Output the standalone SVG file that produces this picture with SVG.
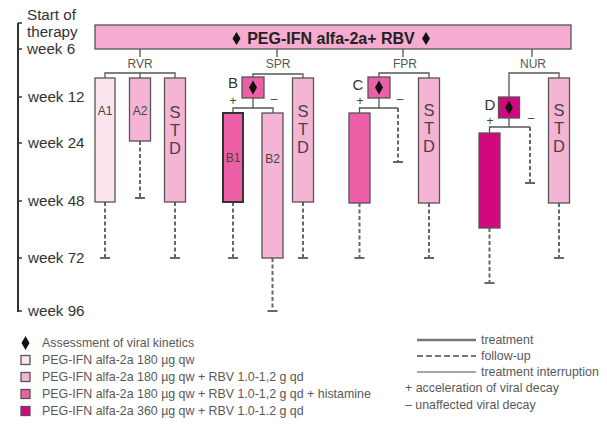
<svg xmlns="http://www.w3.org/2000/svg" width="607" height="430" viewBox="0 0 607 430">
<defs>
<style>
text{font-family:"Liberation Sans",Arial,sans-serif}
.ax{font-size:15.2px;fill:#333}
.grp{font-size:12px;fill:#555;text-anchor:middle}
.bl{font-size:12px;fill:#444;text-anchor:middle}
.std{font-size:16.5px;fill:#444;writing-mode:vertical-rl;text-orientation:upright}
.pm{font-size:12px;fill:#444;text-anchor:middle}
.lg{font-size:12.4px;fill:#595959}
.box{stroke:#555;stroke-width:1.3}
.c0{fill:#fce4ef}.c1{fill:#f6b4d4}.c2{fill:#ec5ea5}.c3{fill:#d4087e}
.conn{stroke:#555;stroke-width:1.3;fill:none}
.fu{stroke:#666;stroke-width:2;stroke-dasharray:4 2.5;fill:none}
.end{stroke:#666;stroke-width:1.8}
.dia{fill:#111}
</style>
</defs>
<rect width="607" height="430" fill="#fff"/>
<g id="axis">
<line x1="18" y1="23" x2="18" y2="312" stroke="#333" stroke-width="2"/>
<g stroke="#333" stroke-width="1.5">
<line x1="18" y1="23" x2="22" y2="23"/><line x1="18" y1="49" x2="22" y2="49"/><line x1="18" y1="97" x2="22" y2="97"/><line x1="18" y1="143" x2="22" y2="143"/><line x1="18" y1="201" x2="22" y2="201"/><line x1="18" y1="258" x2="22" y2="258"/><line x1="18" y1="311" x2="22" y2="311"/>
</g>
<text class="ax" x="27" y="20">Start of</text>
<text class="ax" x="27" y="37.2">therapy</text>
<text class="ax" x="27" y="54.4">week 6</text>
<text class="ax" x="28" y="102">week 12</text>
<text class="ax" x="28" y="148">week 24</text>
<text class="ax" x="28" y="206">week 48</text>
<text class="ax" x="28" y="263">week 72</text>
<text class="ax" x="28" y="316">week 96</text>
</g>
<g id="banner">
<rect x="95" y="25" width="476" height="24" fill="#f5acd0" class="box"/>
<polygon class="dia" points="236.5,32 240.5,38.5 236.5,45 232.5,38.5"/>
<polygon class="dia" points="426,32 430,38.5 426,45 422,38.5"/>
<text x="331" y="43.5" font-size="16" font-weight="bold" fill="#222" text-anchor="middle">PEG-IFN alfa-2a+ RBV</text>
</g>
<g id="connectors">
<path class="conn" d="M140,49V57M105,78V73H175V78M140,73V78"/>
<path class="conn" d="M277,49V57M253,77V74H303V78"/>
<path class="conn" d="M253,98V108M233,113V108H273V113"/>
<path class="conn" d="M403,49V57M379,77V73H429V78"/>
<path class="conn" d="M379,98V108M359.5,113V108H398"/>
<path class="conn" d="M532,49V57M509,97V73H559V78"/>
<path class="conn" d="M509,118V127M489.5,133V127H530"/>
<path class="fu" d="M105,202V258M140,141V198M175,202V258M233,202V258M272.5,258V311M303,202V258M359.5,203V258M398,108V162M429,203V258M489.5,228V283M530,127V183M559,203V258"/>
<path class="end" d="M100,258H110M135,198H145M170,258H180M228,258H238M267.5,311H277.5M298,258H308M354.5,258H364.5M393,162H403M424,258H434M484.5,283H494.5M525,183H535M554,258H564"/>
</g>
<g id="RVR">
<text class="grp" x="140" y="68">RVR</text>
<g id="A1"><rect class="box c0" x="95" y="78" width="20" height="124"/><text class="bl" x="105" y="115">A1</text></g>
<g id="A2"><rect class="box c1" x="129.5" y="78" width="21" height="63"/><text class="bl" x="140" y="115">A2</text></g>
<g id="RVR-STD"><rect class="box c1" x="164.5" y="78" width="21" height="124"/><text class="std" x="175" y="103">STD</text></g>
</g>
<g id="SPR">
<text class="grp" x="278" y="68">SPR</text>
<g id="B"><rect class="box c2" x="242" y="77" width="22" height="21"/><polygon class="dia" points="253,80.5 257,87.5 253,94.5 249,87.5"/><text x="233" y="88" font-size="15" fill="#333" text-anchor="middle">B</text></g>
<text class="pm" x="233" y="105">+</text><text class="pm" x="274" y="103">–</text>
<g id="B1"><rect x="223" y="113" width="20" height="89" fill="#ec5ea5" stroke="#333" stroke-width="2"/><text class="bl" x="233" y="162">B1</text></g>
<g id="B2"><rect class="box c1" x="262" y="113" width="21" height="145"/><text class="bl" x="272.5" y="163">B2</text></g>
<g id="SPR-STD"><rect class="box c1" x="292.5" y="78" width="21" height="124"/><text class="std" x="303" y="102">STD</text></g>
</g>
<g id="FPR">
<text class="grp" x="405" y="68">FPR</text>
<g id="C"><rect class="box c2" x="368" y="77" width="22" height="21"/><polygon class="dia" points="379,80.5 383,87.5 379,94.5 375,87.5"/><text x="358" y="90" font-size="15" fill="#333" text-anchor="middle">C</text></g>
<text class="pm" x="360" y="105">+</text><text class="pm" x="400" y="103">–</text>
<g id="FPR-treat"><rect class="box c2" x="349" y="113" width="21" height="90"/></g>
<g id="FPR-STD"><rect class="box c1" x="418.5" y="78" width="21" height="125"/><text class="std" x="429" y="101">STD</text></g>
</g>
<g id="NUR">
<text class="grp" x="533" y="68">NUR</text>
<g id="D"><rect class="box c3" x="498.5" y="97" width="21" height="21"/><polygon class="dia" points="509,100.5 513,107.5 509,114.5 505,107.5"/><text x="490" y="110" font-size="15" fill="#333" text-anchor="middle">D</text></g>
<text class="pm" x="490" y="125">+</text><text class="pm" x="531" y="122">–</text>
<g id="NUR-treat"><rect class="box c3" x="479" y="133" width="21" height="95"/></g>
<g id="NUR-STD"><rect class="box c1" x="548.5" y="78" width="21" height="125"/><text class="std" x="559" y="101">STD</text></g>
</g>
<g id="legend">
<polygon class="dia" points="25.5,336 29.5,343 25.5,350 21.5,343"/>
<text class="lg" x="42" y="347">Assessment of viral kinetics</text>
<rect class="box c0" x="21" y="355.5" width="9" height="9"/>
<text class="lg" x="42" y="364">PEG-IFN alfa-2a 180 µg qw</text>
<rect class="box c1" x="21" y="372.5" width="9" height="9"/>
<text class="lg" x="42" y="381">PEG-IFN alfa-2a 180 µg qw + RBV 1.0-1,2 g qd</text>
<rect class="box c2" x="21" y="389.5" width="9" height="9"/>
<text class="lg" x="42" y="398">PEG-IFN alfa-2a 180 µg qw + RBV 1.0-1,2 g qd + histamine</text>
<rect class="box c3" x="21" y="406.5" width="9" height="9"/>
<text class="lg" x="42" y="415">PEG-IFN alfa-2a 360 µg qw + RBV 1.0-1.2 g qd</text>
<line x1="417" y1="340" x2="476" y2="340" stroke="#777" stroke-width="2.5"/>
<text class="lg" x="481" y="344">treatment</text>
<line x1="417" y1="356" x2="476" y2="356" stroke="#777" stroke-width="2" stroke-dasharray="6 3"/>
<text class="lg" x="481" y="360">follow-up</text>
<line x1="417" y1="372" x2="476" y2="372" stroke="#888" stroke-width="1.3"/>
<text class="lg" x="481" y="376">treatment interruption</text>
<text class="lg" x="405" y="392">+ acceleration of viral decay</text>
<text class="lg" x="405" y="409">– unaffected viral decay</text>
</g>
</svg>
